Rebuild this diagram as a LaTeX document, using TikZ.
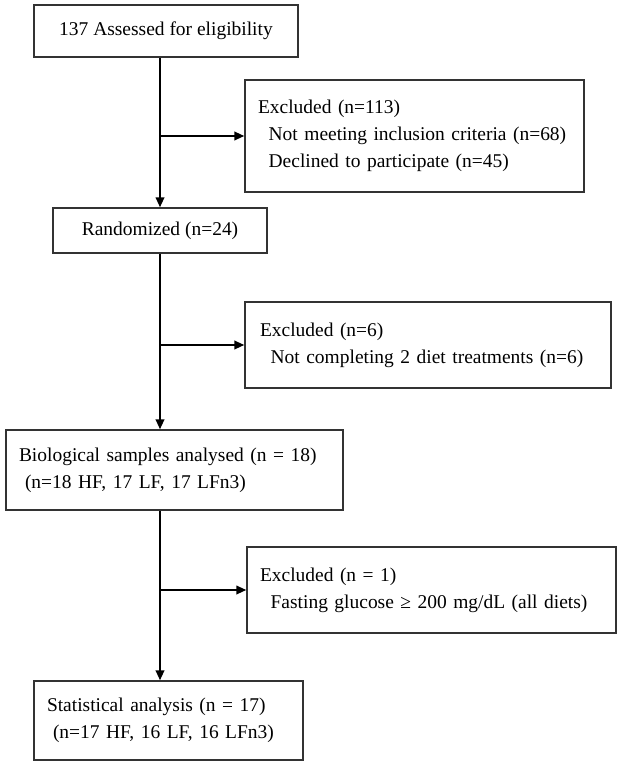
\documentclass[tikz,border=0pt]{standalone}
\usepackage{fontspec}
\setmainfont{Liberation Serif}
\usetikzlibrary{arrows.meta, positioning}
\newcommand{\pxu}{0.75pt}

\begin{document}
\begin{tikzpicture}[x=0.75pt, y=-0.75pt,
        box/.style={draw=black!80, line width=1.1pt, inner sep=0pt, font=\fontsize{14.6pt}{20.25pt}\selectfont},
        leftbox/.style={box, align=left, inner xsep=13*\pxu},
        flow/.style={line width=1.4pt, -{Triangle[length=7.5pt, width=6.5pt]}}]
                \useasboundingbox (0,0) rectangle (629,766);

                % Main stages
                \node[box, minimum width=264*\pxu, minimum height=52*\pxu] (assessed) at (166,31) {137 Assessed for eligibility};
                \node[box, minimum width=214*\pxu, minimum height=45*\pxu] (random) at (160,230.5) {Randomized (n=24)};
                \node[leftbox, text width=311*\pxu, minimum height=80*\pxu] (samples) at (174.5,470) {Biological samples analysed (n = 18)\\\hspace{4.5pt}(n=18 HF, 17 LF, 17 LFn3)};
                \node[leftbox, text width=243*\pxu, minimum height=79*\pxu] (stats) at (168.5,720.5) {Statistical analysis (n = 17)\\\hspace{4.5pt}(n=17 HF, 16 LF, 16 LFn3)};

                % Exclusions
                \node[leftbox, text width=313*\pxu, minimum height=112*\pxu] (excl1) at (414.5,136) {Excluded (n=113)\\\hspace{8pt}Not meeting inclusion criteria (n=68)\\\hspace{8pt}Declined to participate (n=45)};
                \node[leftbox, inner xsep=15*\pxu, text width=336*\pxu, minimum height=86*\pxu] (excl2) at (428,345) {Excluded (n=6)\\\hspace{8pt}Not completing 2 diet treatments (n=6)};
                \node[leftbox, text width=343*\pxu, minimum height=86*\pxu] (excl3) at (431.5,590) {Excluded (n = 1)\\\hspace{8pt}Fasting glucose ≥ 200 mg/dL (all diets)};

                % Flow
                \draw[flow] (assessed.south -| random.north) -- (random.north);
                \draw[flow] (random.south) -- (random.south |- samples.north);
                \draw[flow] (samples.south -| random.south) -- (stats.north -| random.south);

                % Branches
                \draw[flow] (random.north |- excl1.west) -- (excl1.west);
                \draw[flow] (random.south |- excl2.west) -- (excl2.west);
                \draw[flow] (random.south |- excl3.west) -- (excl3.west);
\end{tikzpicture}
\end{document}
